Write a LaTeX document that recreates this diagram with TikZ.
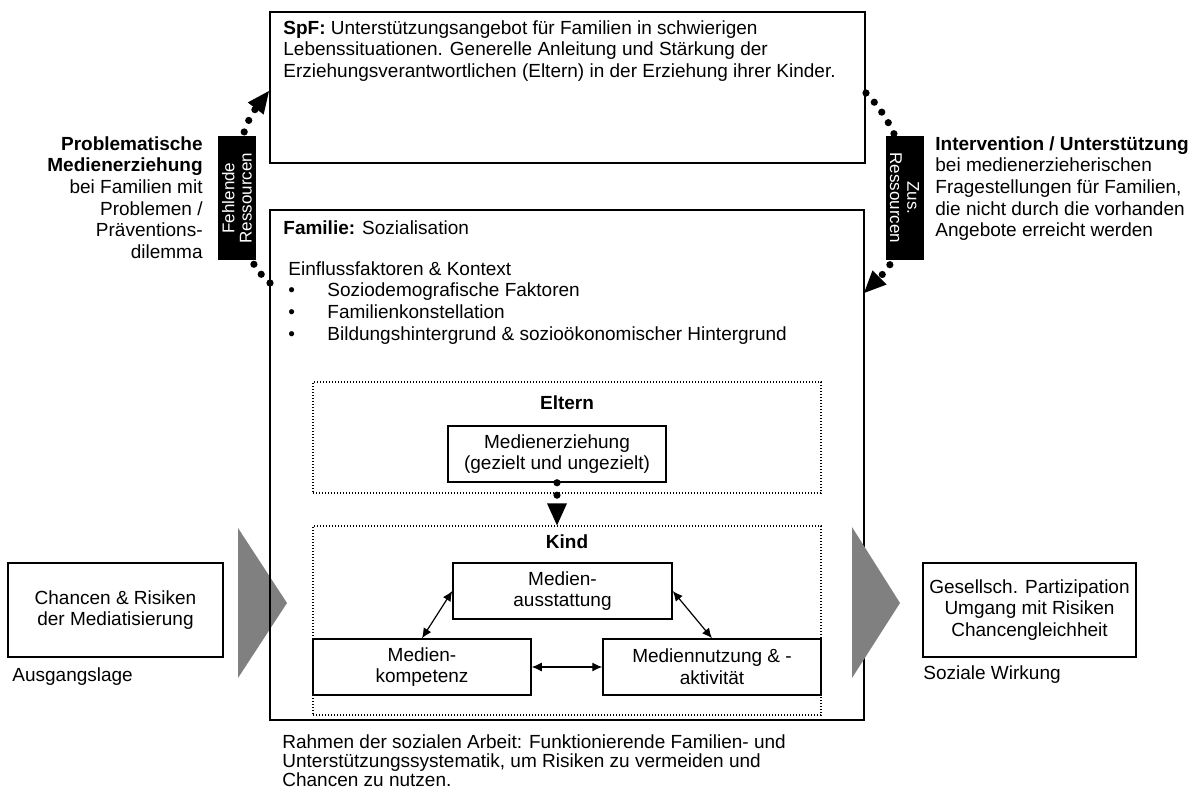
\documentclass[tikz,border=0pt]{standalone}
\usepackage{fontspec}
\setmainfont{Liberation Sans}
\usetikzlibrary{arrows.meta}

\begin{document}
\begin{tikzpicture}[x=0.5pt, y=-0.5pt,
  every node/.style={font=\fontsize{9.5}{10.85}\selectfont, inner sep=0pt},
  kasten/.style={draw, line width=0.75pt},
  punktrahmen/.style={draw, line width=0.6pt, dash pattern=on 0.5pt off 1pt},
  punktpfeil/.style={line width=3.6pt, line cap=round, dash pattern=on 0pt off 6.2pt,
    -{Triangle[length=11pt, width=10pt, line width=0pt]}},
  wechsel/.style={line width=0.6pt, {Latex[length=5pt, width=4.5pt]}-{Latex[length=5pt, width=4.5pt]}},
  etikett/.style={fill=black, text=white, align=center, minimum width=62pt, minimum height=19pt,
    font=\fontsize{8.5}{8.6}\selectfont}]
	\useasboundingbox (0,0) rectangle (1199,792);

	% Ausgangslage
	\fill[black!50] (238,528) -- (287,603) -- (238,678) -- cycle;
	\node[kasten, minimum width=107.5pt, minimum height=47pt, align=center] (chancen) at (115.5,610) {Chancen \& Risiken\\der Mediatisierung};
	\node[anchor=west] (ausgang) at (12,677) {Ausgangslage};

	% SpF
	\node[kasten, minimum width=297.5pt, minimum height=75.5pt] (spf) at (567.5,87.5) {};
	\node[anchor=north west, align=left] (spftext) at (283,20) {\textbf{SpF:} Unterstützungsangebot für Familien in schwierigen\\Lebenssituationen. Generelle Anleitung und Stärkung der\\Erziehungsverantwortlichen (Eltern) in der Erziehung ihrer Kinder.};

	% Familie
	\node[kasten, minimum width=297pt, minimum height=255pt] (familie) at (567,465) {};
	\node[anchor=west] (famtitel) at (283,228) {\textbf{Familie:} Sozialisation};
	\node[anchor=north west, align=left] (einfluss) at (288,261) {Einflussfaktoren \& Kontext\\\makebox[19.5pt][l]{\textbullet}Soziodemografische Faktoren\\\makebox[19.5pt][l]{\textbullet}Familienkonstellation\\\makebox[19.5pt][l]{\textbullet}Bildungshintergrund \& sozioökonomischer Hintergrund};

	% Eltern
	\node[punktrahmen, minimum width=254pt, minimum height=55.5pt] (eltern) at (567,437.5) {};
	\node (elterntitel) at (567,403) {\textbf{Eltern}};
	\node[kasten, fill=white, minimum width=109pt, minimum height=28pt, align=center] (erziehung) at (557,454) {Medienerziehung\\(gezielt und ungezielt)};

	% Kind
	\node[punktrahmen, minimum width=254pt, minimum height=94.5pt] (kind) at (567,620.5) {};
	\node (kindtitel) at (567,542) {\textbf{Kind}};
	\node[kasten, minimum width=109.5pt, minimum height=28pt, align=center] (ausstattung) at (562.5,591) {Medien-\\ausstattung};
	\node[kasten, minimum width=109pt, minimum height=28pt, align=center] (kompetenz) at (422,667) {Medien-\\kompetenz};
	\node[kasten, minimum width=109pt, minimum height=28pt, align=center] (nutzung) at (712,667) {Mediennutzung \& -\\aktivität};

	\draw[punktpfeil] (erziehung.south) -- (erziehung.south |- kind.north);
	\draw[wechsel] (ausstattung.west) -- (kompetenz.north);
	\draw[wechsel] (ausstattung.east) -- (nutzung.north);
	\draw[wechsel] (kompetenz.east) -- (nutzung.west);

	% Ressourcen
	\node[anchor=north east, align=right] (problem) at (203,136) {\textbf{Problematische}\\\textbf{Medienerziehung}\\bei Familien mit\\Problemen /\\Präventions-\\dilemma};
	\coordinate (linksunten) at (270,283);
	\coordinate (linksoben) at (269,91);
	\draw[punktpfeil] (linksunten) .. controls (222,243) and (231,141) .. (linksoben);
	\node[etikett, rotate=90] (fehlend) at (237,198) {Fehlende\\Ressourcen};

	\node[anchor=north west, align=left] (intervention) at (935,136) {\textbf{Intervention / Unterstützung}\\bei medienerzieherischen\\Fragestellungen für Familien,\\die nicht durch die vorhanden\\Angebote erreicht werden};
	\coordinate (rechtsoben) at (866,93);
	\coordinate (rechtsunten) at (864,293);
	\draw[punktpfeil] (rechtsoben) .. controls (920,148) and (919,238) .. (rechtsunten);
	\node[etikett, rotate=-90] (zusatz) at (904.5,198) {Zus.\\Ressourcen};

	% Wirkung
	\fill[black!50] (852,527) -- (900,603) -- (852,678) -- cycle;
	\node[kasten, minimum width=106.5pt, minimum height=47pt, align=center] (wirkung) at (1029.5,610) {Gesellsch. Partizipation\\Umgang mit Risiken\\Chancengleichheit};
	\node[anchor=west] (sozial) at (923,675) {Soziale Wirkung};

	\node[anchor=north west, align=left, font=\fontsize{9.5}{9.65}\selectfont] (sozarbeit) at (282,734) {Rahmen der sozialen Arbeit: Funktionierende Familien- und\\Unterstützungssystematik, um Risiken zu vermeiden und\\Chancen zu nutzen.};
\end{tikzpicture}
\end{document}
